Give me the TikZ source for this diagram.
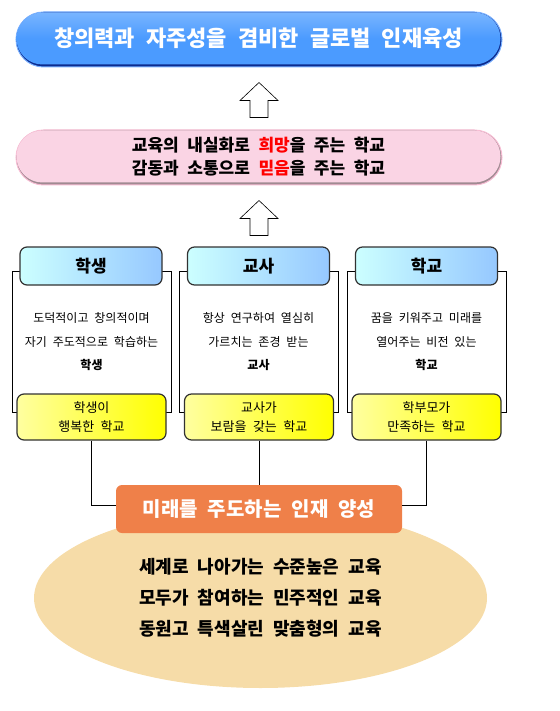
\documentclass[tikz,border=0pt]{standalone}
\usepackage{fontspec}
\setmainfont{Noto Sans CJK KR}[WordSpace=2.2]
\usepackage{tikz}
\usetikzlibrary{shapes.misc,shapes.geometric}
\definecolor{goalblue}{RGB}{75, 155, 255}
\definecolor{goalrim}{RGB}{12, 44, 143}
\definecolor{goaledge}{RGB}{120, 175, 255}
\definecolor{aimpink}{RGB}{250, 212, 228}
\definecolor{aimrim}{RGB}{160, 138, 146}
\definecolor{aimedge}{RGB}{247, 188, 211}
\definecolor{headleft}{RGB}{204, 255, 255}
\definecolor{headright}{RGB}{150, 200, 255}
\definecolor{footleft}{RGB}{255, 255, 160}
\definecolor{footright}{RGB}{255, 255, 0}
\definecolor{boxline}{RGB}{50, 50, 50}
\definecolor{visionorange}{RGB}{239, 128, 73}
\definecolor{idealsand}{RGB}{246, 220, 168}
\newcommand{\blockup}[1]{\draw[blockarrow] (#1) -- ++(19,18) -- ++(-10,0) -- ++(0,17) -- ++(-18,0) -- ++(0,-17) -- ++(-10,0) -- cycle;}
\tikzset{
  pill/.style={rounded rectangle, inner sep=0pt},
  headbox/.style={draw=boxline, line width=1.2pt, rounded corners=7pt, left color=headleft, right color=headright, minimum width=142, minimum height=38, font=\fontsize{17}{17}\selectfont\bfseries},
  footbox/.style={draw=boxline, line width=1.2pt, rounded corners=7pt, left color=footleft, right color=footright, minimum width=149, minimum height=46, inner sep=0pt, align=center, font=\fontsize{13}{19}\selectfont},
  framebox/.style={chamfered rectangle, chamfered rectangle xsep=3pt, chamfered rectangle ysep=3pt, draw=black, line width=0.6pt, minimum width=159, minimum height=141, inner sep=0pt},
  bodytext/.style={align=center, font=\fontsize{12}{23.5}\selectfont},
  blockarrow/.style={draw=black, line width=0.6pt, fill=white},
  link/.style={draw=black, line width=0.6pt},
}

\begin{document}
\begin{tikzpicture}[x=1pt, y=-1pt]
    \useasboundingbox (0,0) rectangle (559,711);
    % goal
    \node[pill, fill=goalrim, draw=goaledge, line width=1pt, minimum width=486, minimum height=55] (goalbg) at (259,39.5) {};
    \node[pill, top color=goalblue!75!white, bottom color=goalblue, middle color=goalblue, minimum width=484, minimum height=52, text=white, font=\fontsize{22}{22}\selectfont\bfseries] (goal) at (258.5,38.5) {창의력과 자주성을 겸비한 글로벌 인재육성};
    % aims
    \node[pill, fill=aimrim, draw=aimedge, line width=1pt, minimum width=486, minimum height=55] (aimsbg) at (259,157.5) {};
    \node[pill, fill=aimpink, minimum width=484, minimum height=52, align=center, font=\fontsize{17}{23}\selectfont\bfseries] (aims) at (258.5,156.5) {교육의 내실화로 \textcolor{red}{희망}을 주는 학교\\감동과 소통으로 \textcolor{red}{믿음}을 주는 학교};
    \coordinate (tip1) at ([yshift=-15pt]goalbg.south);
    \coordinate (tip2) at ([yshift=-15pt]aimsbg.south);
    \blockup{tip1}
    \blockup{tip2}
    % students
    \node[framebox] (frame1) at (91.5,341.5) {};
    \node[headbox] (head1) at (91,266) {학생};
    \node[bodytext] (body1) at (91.5,342) {도덕적이고 창의적이며\\자기 주도적으로 학습하는\\\textbf{학생}};
    \node[footbox] (foot1) at (91.5,417) {학생이\\행복한 학교};
    % teachers
    \node[framebox] (frame2) at (258.5,341.5) {};
    \node[headbox] (head2) at (258.5,266) {교사};
    \node[bodytext] (body2) at (258.5,342) {항상 연구하여 열심히\\가르치는 존경 받는\\\textbf{교사}};
    \node[footbox] (foot2) at (259,417) {교사가\\보람을 갖는 학교};
    % school
    \node[framebox] (frame3) at (426.5,341.5) {};
    \node[headbox] (head3) at (426.5,266) {학교};
    \node[bodytext] (body3) at (426.5,342) {꿈을 키워주고 미래를\\열어주는 비전 있는\\\textbf{학교}};
    \node[footbox] (foot3) at (426.5,417) {학부모가\\만족하는 학교};
    % vision
    \node[ellipse, fill=idealsand, minimum width=453, minimum height=180, inner sep=0pt, align=center, font=\fontsize{18}{31}\selectfont\bfseries] (ideal) at (260.5,598) {세계로 나아가는 수준높은 교육\\모두가 참여하는 민주적인 교육\\동원고 특색살린 맞춤형의 교육};
    \node[fill=visionorange, rounded corners=6pt, minimum width=286, minimum height=48, text=white, font=\fontsize{20}{20}\selectfont\bfseries] (vision) at (259,509) {미래를 주도하는 인재 양성};
    \draw[link] (foot1.south) |- ([yshift=4pt]vision.west);
    \draw[link] (foot2.south) -- (vision.north);
    \draw[link] (foot3.south) |- ([yshift=4pt]vision.east);
\end{tikzpicture}
\end{document}
